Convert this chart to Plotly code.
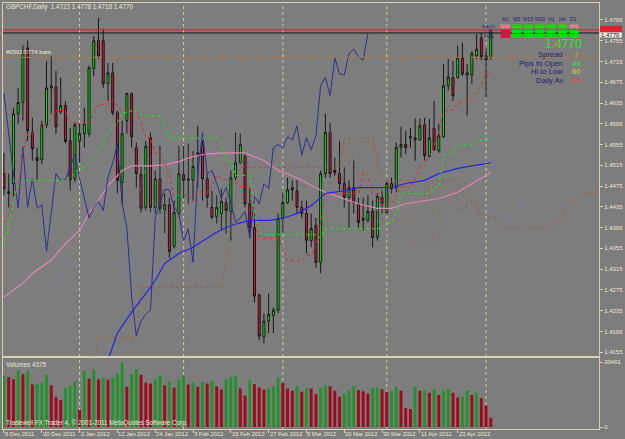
import plotly.graph_objects as go
import pandas as pd

# ---------------- data ----------------
tick_idx = [0, 8, 16, 24, 32, 40, 48, 56, 64, 72, 80, 88, 96]
tick_labels = ["8 Dec 2011", "20 Dec 2011", "2 Jan 2012", "12 Jan 2012", "24 Jan 2012",
               "3 Feb 2012", "15 Feb 2012", "27 Feb 2012", "8 Mar 2012", "20 Mar 2012",
               "30 Mar 2012", "11 Apr 2012", "23 Apr 2012"]
month_start_idx = [16, 38, 59, 81, 102]
price_ticks = [1.4795, 1.4755, 1.4715, 1.4675, 1.4635, 1.4595, 1.4555, 1.4515, 1.4475,
               1.4435, 1.4395, 1.4355, 1.4315, 1.4275, 1.4235, 1.4195, 1.4155]

opens = [1.4499, 1.4464, 1.4480, 1.4614, 1.4636, 1.4741, 1.4578, 1.4530, 1.4526, 1.4593,
         1.4664, 1.4666, 1.4618, 1.4630, 1.4562, 1.4489, 1.4562, 1.4576, 1.4576, 1.4701,
         1.4755, 1.4755, 1.4672, 1.4693, 1.4616, 1.4482, 1.4601, 1.4653, 1.4549, 1.4497,
         1.4434, 1.4568, 1.4434, 1.4489, 1.4430, 1.4439, 1.4359, 1.4422, 1.4497, 1.4489,
         1.4486, 1.4539, 1.4553, 1.4489, 1.4434, 1.4416, 1.4422, 1.4443, 1.4426, 1.4491,
         1.4520, 1.4532, 1.4441, 1.4395, 1.4265, 1.4184, 1.4215, 1.4226, 1.4236, 1.4413,
         1.4443, 1.4472, 1.4466, 1.4434, 1.4422, 1.4370, 1.4399, 1.4328, 1.4499, 1.4578,
         1.4501, 1.4499, 1.4480, 1.4453, 1.4472, 1.4441, 1.4409, 1.4409, 1.4426, 1.4376,
         1.4453, 1.4424, 1.4480, 1.4472, 1.4549, 1.4555, 1.4568, 1.4568, 1.4564, 1.4593,
         1.4532, 1.4586, 1.4543, 1.4570, 1.4668, 1.4684, 1.4684, 1.4722, 1.4693, 1.4689,
         1.4726, 1.4760, 1.4726, 1.4723]
highs = [1.4539, 1.4499, 1.4626, 1.4664, 1.4747, 1.4755, 1.4607, 1.4549, 1.4601, 1.4716,
         1.4726, 1.4697, 1.4684, 1.4639, 1.4587, 1.4597, 1.4595, 1.4626, 1.4707, 1.4764,
         1.4799, 1.4778, 1.4712, 1.4712, 1.4620, 1.4601, 1.4655, 1.4655, 1.4559, 1.4514,
         1.4562, 1.4578, 1.4505, 1.4553, 1.4461, 1.4453, 1.4447, 1.4553, 1.4553, 1.4557,
         1.4543, 1.4591, 1.4562, 1.4499, 1.4466, 1.4457, 1.4470, 1.4453, 1.4505, 1.4578,
         1.4576, 1.4539, 1.4472, 1.4422, 1.4268, 1.4230, 1.4268, 1.4241, 1.4422, 1.4463,
         1.4491, 1.4486, 1.4486, 1.4447, 1.4447, 1.4422, 1.4414, 1.4505, 1.4614, 1.4597,
         1.4530, 1.4562, 1.4511, 1.4486, 1.4524, 1.4453, 1.4453, 1.4457, 1.4447, 1.4461,
         1.4466, 1.4486, 1.4491, 1.4559, 1.4589, 1.4582, 1.4587, 1.4605, 1.4605, 1.4607,
         1.4605, 1.4639, 1.4595, 1.4710, 1.4720, 1.4716, 1.4745, 1.4751, 1.4710, 1.4735,
         1.4768, 1.4770, 1.4741, 1.4778]
lows = [1.4457, 1.4434, 1.4453, 1.4595, 1.4601, 1.4562, 1.4524, 1.4486, 1.4518, 1.4587,
        1.4614, 1.4576, 1.4614, 1.4557, 1.4466, 1.4482, 1.4520, 1.4549, 1.4570, 1.4687,
        1.4720, 1.4664, 1.4639, 1.4611, 1.4461, 1.4441, 1.4576, 1.4549, 1.4472, 1.4424,
        1.4428, 1.4424, 1.4422, 1.4422, 1.4384, 1.4336, 1.4355, 1.4418, 1.4451, 1.4441,
        1.4447, 1.4472, 1.4447, 1.4434, 1.4412, 1.4403, 1.4389, 1.4384, 1.4370, 1.4486,
        1.4518, 1.4434, 1.4374, 1.4251, 1.4178, 1.4172, 1.4192, 1.4192, 1.4230, 1.4386,
        1.4441, 1.4447, 1.4422, 1.4414, 1.4345, 1.4357, 1.4318, 1.4307, 1.4491, 1.4491,
        1.4495, 1.4466, 1.4434, 1.4395, 1.4422, 1.4395, 1.4389, 1.4405, 1.4357, 1.4370,
        1.4422, 1.4422, 1.4461, 1.4463, 1.4530, 1.4537, 1.4549, 1.4524, 1.4562, 1.4524,
        1.4530, 1.4543, 1.4539, 1.4568, 1.4659, 1.4639, 1.4682, 1.4687, 1.4611, 1.4672,
        1.4720, 1.4718, 1.4645, 1.4718]
closes = [1.4470, 1.4461, 1.4614, 1.4636, 1.4732, 1.4582, 1.4547, 1.4524, 1.4593, 1.4664,
          1.4668, 1.4589, 1.4630, 1.4561, 1.4487, 1.4593, 1.4576, 1.4595, 1.4703, 1.4755,
          1.4726, 1.4672, 1.4693, 1.4616, 1.4486, 1.4576, 1.4653, 1.4570, 1.4499, 1.4432,
          1.4551, 1.4434, 1.4489, 1.4432, 1.4439, 1.4349, 1.4424, 1.4499, 1.4486, 1.4487,
          1.4513, 1.4536, 1.4489, 1.4453, 1.4414, 1.4434, 1.4445, 1.4428, 1.4491, 1.4520,
          1.4555, 1.4441, 1.4395, 1.4263, 1.4186, 1.4215, 1.4228, 1.4236, 1.4413, 1.4443,
          1.4468, 1.4468, 1.4434, 1.4422, 1.4370, 1.4393, 1.4328, 1.4499, 1.4578, 1.4499,
          1.4505, 1.4480, 1.4453, 1.4472, 1.4443, 1.4405, 1.4413, 1.4426, 1.4376, 1.4455,
          1.4441, 1.4480, 1.4470, 1.4549, 1.4555, 1.4549, 1.4570, 1.4564, 1.4591, 1.4534,
          1.4568, 1.4545, 1.4572, 1.4668, 1.4685, 1.4649, 1.4722, 1.4691, 1.4689, 1.4730,
          1.4739, 1.4724, 1.4718, 1.4770]
volumes = [24272, 23499, 22417, 26591, 24736, 26282, 19943, 20407, 20500, 24427,
           19634, 14223, 12677, 18397, 19170, 21489, 8039, 26282, 22726, 26900,
           22262, 23190, 22262, 23190, 25045, 30461, 18861, 24736, 27210, 24581,
           20871, 20407, 22262, 24272, 19634, 21489, 18552, 21953, 24118, 19943,
           21026, 18861, 21026, 20407, 21644, 19170, 17624, 22262, 23654, 23808,
           18088, 14842, 21953, 20098, 18552, 17624, 18088, 18861, 23190, 20716,
           18088, 17006, 19325, 16542, 18397, 18088, 15460, 18397, 19634, 19170,
           17006, 14223, 15769, 17315, 19170, 17315, 16851, 15769, 18397, 18450,
           17779, 16542, 16851, 18861, 17006, 8812, 8503, 18861, 17006, 17315,
           16078, 17779, 14996, 17315, 17779, 16078, 13914, 14223, 17006, 14996,
           16078, 13450, 10049, 4375]

# indicator values before enough history is visible
tenkan_early = [1.4405, 1.4418, 1.4453, 1.4472, 1.4539, 1.4576, 1.4576, 1.4582]
kijun_early = [1.4359, 1.4399, 1.4451, 1.4476, 1.4486, 1.4486, 1.4486, 1.4486, 1.4486,
               1.4486, 1.4486, 1.4486, 1.4486, 1.4486, 1.4491, 1.4501, 1.4509, 1.4511,
               1.4524, 1.4534, 1.4547, 1.4559, 1.4578, 1.4587, 1.4597]
spanA_early = [1.4255, 1.4255, 1.4255, 1.4255, 1.4255, 1.4255, 1.4255, 1.4255, 1.4255,
               1.4255, 1.4293, 1.4293, 1.4293, 1.4326, 1.4326, 1.4326, 1.4326, 1.4326,
               1.4326, 1.4326, 1.4326, 1.4326, 1.4326, 1.4326, 1.4326, 1.4326]
spanB_early = [1.4120, 1.4120, 1.4120, 1.4120, 1.4120, 1.4120, 1.4120, 1.4120, 1.4120,
               1.4120, 1.4120, 1.4120, 1.4120, 1.4120, 1.4120, 1.4120, 1.4120, 1.4120,
               1.4120, 1.4120, 1.4184, 1.4184, 1.4184, 1.4184, 1.4184, 1.4184, 1.4184,
               1.4184, 1.4184, 1.4280, 1.4280, 1.4280, 1.4280, 1.4280, 1.4280, 1.4280,
               1.4280, 1.4280, 1.4280, 1.4280, 1.4280, 1.4280, 1.4280, 1.4280, 1.4280,
               1.4280, 1.4280, 1.4332, 1.4389, 1.4457, 1.4511, 1.4511, 1.4511, 1.4511,
               1.4511, 1.4511, 1.4511, 1.4511, 1.4511, 1.4511, 1.4511, 1.4511, 1.4511,
               1.4511, 1.4511, 1.4511, 1.4511, 1.4511, 1.4511, 1.4511, 1.4511, 1.4511,
               1.4567, 1.4567, 1.4567, 1.4567, 1.4567]

ma_pink_idx = [0, 4, 6, 10, 13, 16, 18, 20, 22, 25, 27, 31, 34, 37, 40, 43, 47, 51, 55,
               58, 62, 65, 68, 72, 75, 79, 82, 85, 89, 92, 96, 99, 103]
ma_pink_val = [1.4261, 1.4288, 1.4307, 1.4332, 1.4364, 1.4389, 1.4422, 1.4447, 1.4476,
               1.4505, 1.4514, 1.4514, 1.4516, 1.4522, 1.4532, 1.4537, 1.4539, 1.4539,
               1.4524, 1.4505, 1.4491, 1.4476, 1.4463, 1.4451, 1.4441, 1.4432, 1.4432,
               1.4441, 1.4447, 1.4451, 1.4463, 1.4480, 1.4501]
ma_blue_idx = [19, 22, 24, 27, 30, 32, 34, 37, 40, 45, 48, 52, 56, 59, 62, 65, 68, 72,
               75, 79, 82, 85, 89, 92, 96, 99, 103]
ma_blue_val = [1.4090, 1.4140, 1.4192, 1.4232, 1.4268, 1.4293, 1.4326, 1.4345, 1.4357,
               1.4386, 1.4399, 1.4409, 1.4409, 1.4413, 1.4422, 1.4437, 1.4461, 1.4466,
               1.4472, 1.4472, 1.4472, 1.4480, 1.4486, 1.4499, 1.4509, 1.4514, 1.4520]

symbol = "GBPCHF,Daily"
day_open, day_high, day_low, bid = 1.4723, 1.4778, 1.4718, 1.4770
spread_pips = 7
ask = 1.4776
pips_to_open, hi_to_low, daily_av = 49, 60, 63
signal_rows = ["MACD", "STR", "EMA"]
timeframes = ["M1", "M5", "M15", "M30", "H1", "H4", "D1"]
signal_state = [["weak", "up", "up", "up", "up", "up", "weak"],
                ["down", "up", "up", "up", "up", "up", "up"],
                ["down", "up", "up", "up", "up", "up", "up"]]

# ---------------- geometry / style ----------------
W, H = 625, 439
ML, MR, MT, MB = 2, 23, 2, 10
PW, PH = W - ML - MR, H - MT - MB
BG = "#7D7D7D"
FR = "#DCD0B2"
TX = "#EEE6D2"
NAVY = "#1E1E78"
FONT = "Liberation Sans, Arial, sans-serif"


def px(x):
    return (x - ML) / PW


def py(y):
    return (H - MB - y) / PH


n = len(closes)
idx = list(range(n))
sh, sl = pd.Series(highs), pd.Series(lows)
tenkan = ((sh.rolling(9).max() + sl.rolling(9).min()) / 2).tolist()
tenkan[:len(tenkan_early)] = tenkan_early
kijun = ((sh.rolling(26).max() + sl.rolling(26).min()) / 2).tolist()
kijun[:len(kijun_early)] = kijun_early
b52 = ((sh.rolling(52).max() + sl.rolling(52).min()) / 2).tolist()

span_len = n + 26
span_a, span_b = [], []
for i in range(span_len):
    span_a.append(spanA_early[i] if i < 26 else (tenkan[i - 26] + kijun[i - 26]) / 2)
    span_b.append(spanB_early[i] if i < 77 else b52[i - 26])

hx_up, hy_up, hx_dn, hy_dn = [], [], [], []
for i in range(span_len):
    a, b = span_a[i], span_b[i]
    if a >= b:
        hx_up += [i, i, None]; hy_up += [a, b, None]
    else:
        hx_dn += [i, i, None]; hy_dn += [a, b, None]

fig = go.Figure()
fig.add_trace(go.Scatter(x=hx_up, y=hy_up, mode="lines", line=dict(color="rgba(125,125,165,0.42)", width=1, dash="1px,2px"), hoverinfo="skip"))
fig.add_trace(go.Scatter(x=hx_dn, y=hy_dn, mode="lines", line=dict(color="rgba(150,95,60,0.6)", width=1, dash="1px,2px"), hoverinfo="skip"))
fig.add_trace(go.Scatter(x=list(range(span_len)), y=span_a, mode="lines", line=dict(color="rgba(120,120,175,0.6)", width=1, dash="dot"), hoverinfo="skip"))
fig.add_trace(go.Scatter(x=list(range(span_len)), y=span_b, mode="lines", line=dict(color="rgba(160,90,50,0.8)", width=1, dash="dot"), hoverinfo="skip"))

fig.add_trace(go.Candlestick(
    x=idx, open=opens, high=highs, low=lows, close=closes,
    increasing=dict(fillcolor="#00F000", line=dict(color="#161616", width=1)),
    decreasing=dict(fillcolor="#D8143C", line=dict(color="#161616", width=1)),
    whiskerwidth=0, hoverinfo="skip"))

fig.add_trace(go.Scatter(x=ma_pink_idx, y=ma_pink_val, mode="lines", line=dict(color="#E285B6", width=1.2), hoverinfo="skip"))
fig.add_trace(go.Scatter(x=ma_blue_idx, y=ma_blue_val, mode="lines", line=dict(color="#2424E8", width=1.2), hoverinfo="skip"))
fig.add_trace(go.Scatter(x=[i - 26 for i in range(26, n)], y=closes[26:], mode="lines", line=dict(color="#2E2E92", width=1), hoverinfo="skip"))
fig.add_trace(go.Scatter(x=idx, y=tenkan, mode="lines", line=dict(color="#E02828", width=1, dash="dot"), hoverinfo="skip"))
fig.add_trace(go.Scatter(x=idx, y=kijun, mode="lines", line=dict(color="#10F010", width=1, dash="dot"), hoverinfo="skip"))

vol_colors = ["#22922C" if i == 0 or volumes[i] > volumes[i - 1] else "#A00A1E" for i in range(n)]
fig.add_trace(go.Bar(x=idx, y=volumes, marker=dict(color=vol_colors, line=dict(width=0)), width=0.62,
                     xaxis="x2", yaxis="y2", hoverinfo="skip"))

xr = [-0.21, 125.9]
axis_common = dict(showgrid=False, zeroline=False, showline=True, mirror=True, linecolor=FR, linewidth=1, fixedrange=True)
fig.update_layout(
    width=W, height=H, margin=dict(l=ML, r=MR, t=MT, b=MB),
    paper_bgcolor=BG, plot_bgcolor=BG, showlegend=False, boxgap=0.4,
    font=dict(family=FONT, size=6, color=TX),
    xaxis=dict(domain=[0, 1], range=xr, anchor="y", showticklabels=False, ticks="",
               rangeslider=dict(visible=False), **axis_common),
    yaxis=dict(domain=[(H - MB - 356) / PH, 1], range=[1.41473, 1.48277], side="right", anchor="x",
               tickvals=price_ticks, ticktext=["%.4f" % v for v in price_ticks],
               tickfont=dict(size=6, color=TX, family=FONT), ticks="outside", ticklen=3, tickcolor=FR,
               **axis_common),
    xaxis2=dict(domain=[0, 1], range=xr, anchor="y2", matches="x", showticklabels=False,
                tickvals=tick_idx, ticks="outside", ticklen=3, tickcolor=FR, **axis_common),
    yaxis2=dict(domain=[0, (H - MB - 358) / PH], range=[-937, 32335], side="right", anchor="x2",
                tickvals=[0, 30461], ticktext=["0", "30461"], tickfont=dict(size=6, color=TX, family=FONT),
                ticks="outside", ticklen=3, tickcolor=FR, **axis_common),
)

shapes = []
for m in month_start_idx:
    shapes.append(dict(type="line", xref="x", yref="paper", x0=m, x1=m, y0=0, y1=1,
                       line=dict(color="#D8CBA8", width=1, dash="3px,3px"), layer="below"))
shapes.append(dict(type="line", xref="paper", yref="y", x0=0, x1=1, y0=day_open, y1=day_open,
                   line=dict(color="#B8783C", width=1, dash="dashdot")))
shapes.append(dict(type="line", xref="paper", yref="y", x0=0, x1=1, y0=ask, y1=ask,
                   line=dict(color="#D82020", width=1)))
shapes.append(dict(type="line", xref="paper", yref="y", x0=0, x1=1, y0=bid, y1=bid,
                   line=dict(color="#141414", width=1)))
# price tags on the right axis
shapes.append(dict(type="rect", xref="paper", yref="paper", x0=px(603), x1=px(625), y0=py(31.5), y1=py(25),
                   fillcolor="#E0202C", line=dict(width=0)))
shapes.append(dict(type="rect", xref="paper", yref="paper", x0=px(603), x1=px(625), y0=py(36.5), y1=py(31.5),
                   fillcolor="#F2EEE4", line=dict(width=0)))
# signal matrix
col_x0 = [503, 514.5, 526, 537.5, 549, 560.5, 572]
row_y0 = [23.5, 28.8, 33.2]
state_color = {"up": "#00E400", "down": "#D8143C", "weak": "#EE7890"}
for r, row in enumerate(signal_state):
    for c, st in enumerate(row):
        shapes.append(dict(type="rect", xref="paper", yref="paper",
                           x0=px(col_x0[c]), x1=px(col_x0[c] + 9.6),
                           y0=py(row_y0[r] + 3.8), y1=py(row_y0[r]),
                           fillcolor=state_color[st], line=dict(width=0)))
fig.update_layout(shapes=shapes)

ann = []


def text(x, y, s, size=6, color=TX, xanchor="left", **kw):
    ann.append(dict(x=px(x), y=py(y), xref="paper", yref="paper", text=s, showarrow=False,
                    xanchor=xanchor, yanchor="middle", font=dict(size=size, color=color, family=FONT),
                    borderpad=0, **kw))


text(4, 6.5, "%s  %.4f %.4f %.4f %.4f" % (symbol, day_open, day_high, day_low, bid), size=6.3)
text(4, 51.5, "#0561/0774 bars", size=6)
text(614, 33.8, "%.4f" % bid, size=6, color="#101010", xanchor="center")
for c, tf in enumerate(timeframes):
    text(col_x0[c] + 4.8, 18.5, tf, size=5.2, color=NAVY, xanchor="center")
for r, lab in enumerate(signal_rows):
    text(491, row_y0[r] + 1.9, lab, size=4.4, color=NAVY, xanchor="center")
text(566, 43.5, "%.4f" % bid, size=12, color="#18F018", xanchor="center")
stat_labels = ["Spread", "Pips to Open", "Hi to Low", "Daily Av"]
stat_vals = [spread_pips, pips_to_open, hi_to_low, daily_av]
stat_colors = ["#E8A020", "#3CE03C", "#DCCB40", "#E84848"]
stat_y = [54, 62.5, 71, 79.5]
for lab, v, col, yy in zip(stat_labels, stat_vals, stat_colors, stat_y):
    text(566.5, yy, lab, size=7.6, color=NAVY, xanchor="right")
    text(578.5, yy, str(v), size=7.6, color=col, xanchor="center")
text(4, 364.5, "Volumes %d" % volumes[-1], size=6.3)
text(4, 422.5, "Tradewell FX Trader 4, \u00a9 2001-2011 MetaQuotes Software Corp.", size=6.3)

for i, lab in zip(tick_idx, tick_labels):
    ann.append(dict(x=i, xref="x2", y=0, yref="paper", yanchor="top", xanchor="left", xshift=0, yshift=-1,
                    text=lab, showarrow=False, font=dict(size=5.8, color=TX, family=FONT), borderpad=0))
fig.update_layout(annotations=ann)

fig.write_html("out.html")
